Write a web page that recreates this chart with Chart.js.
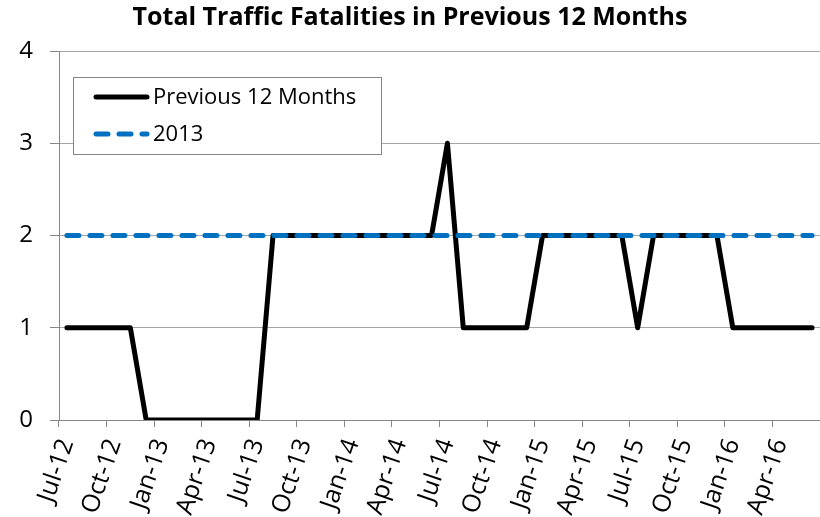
<!DOCTYPE html>
<html>
<head>
<meta charset="utf-8">
<script src="https://cdn.jsdelivr.net/npm/chart.js"></script>
<style>
  html, body { margin: 0; padding: 0; background: #fff; }
  #wrap { width: 820px; height: 517px; }
</style>
</head>
<body>
<div id="wrap"><canvas id="chart" width="820" height="517"></canvas></div>
<script>
const months = [
    'Jul-12', 'Aug-12', 'Sep-12', 'Oct-12', 'Nov-12', 'Dec-12',
    'Jan-13', 'Feb-13', 'Mar-13', 'Apr-13', 'May-13', 'Jun-13',
    'Jul-13', 'Aug-13', 'Sep-13', 'Oct-13', 'Nov-13', 'Dec-13',
    'Jan-14', 'Feb-14', 'Mar-14', 'Apr-14', 'May-14', 'Jun-14',
    'Jul-14', 'Aug-14', 'Sep-14', 'Oct-14', 'Nov-14', 'Dec-14',
    'Jan-15', 'Feb-15', 'Mar-15', 'Apr-15', 'May-15', 'Jun-15',
    'Jul-15', 'Aug-15', 'Sep-15', 'Oct-15', 'Nov-15', 'Dec-15',
    'Jan-16', 'Feb-16', 'Mar-16', 'Apr-16', 'May-16', 'Jun-16'
];
const previous12 = [
    1, 1, 1, 1, 1, 0,
    0, 0, 0, 0, 0, 0,
    0, 2, 2, 2, 2, 2,
    2, 2, 2, 2, 2, 2,
    3, 1, 1, 1, 1, 1,
    2, 2, 2, 2, 2, 2,
    1, 2, 2, 2, 2, 2,
    1, 1, 1, 1, 1, 1
];
const baseline2013 = [
    2, 2, 2, 2, 2, 2,
    2, 2, 2, 2, 2, 2,
    2, 2, 2, 2, 2, 2,
    2, 2, 2, 2, 2, 2,
    2, 2, 2, 2, 2, 2,
    2, 2, 2, 2, 2, 2,
    2, 2, 2, 2, 2, 2,
    2, 2, 2, 2, 2, 2
];
const yTicks = [0, 1, 2, 3, 4];

const FONT = '"Open Sans", Lato, sans-serif';
const AXIS = '#868686';
const GRID = '#a6a6a6';

// legend drawn inside the plot, like the spreadsheet original
const insideLegend = {
    id: 'insideLegend',
    afterDraw(chart) {
        const ctx = chart.ctx;
        const area = chart.chartArea;
        const x = area.left + 14, y = area.top + 26, w = 308, h = 77;
        ctx.save();
        ctx.fillStyle = '#fff';
        ctx.fillRect(x, y, w, h);
        ctx.strokeStyle = AXIS;
        ctx.lineWidth = 1;
        ctx.strokeRect(x + 0.5, y + 0.5, w, h);
        chart.data.datasets.forEach((ds, i) => {
            const ly = y + 20 + i * 37;
            ctx.beginPath();
            ctx.strokeStyle = ds.borderColor;
            ctx.lineWidth = ds.borderWidth;
            ctx.lineCap = 'round';
            ctx.setLineDash(ds.borderDash || []);
            ctx.moveTo(x + 23, ly);
            ctx.lineTo(x + 74, ly);
            ctx.stroke();
            ctx.setLineDash([]);
            ctx.fillStyle = '#000';
            ctx.font = '22px ' + FONT;
            ctx.textBaseline = 'middle';
            ctx.fillText(ds.label, x + 80, ly + 1);
        });
        ctx.restore();
    }
};

new Chart(document.getElementById('chart'), {
    type: 'line',
    data: {
        labels: months,
        datasets: [
            {
                label: 'Previous 12 Months',
                data: previous12,
                borderColor: '#000000',
                borderWidth: 5,
                borderCapStyle: 'round',
                borderJoinStyle: 'round',
                pointRadius: 0,
                tension: 0,
                order: 1
            },
            {
                label: '2013',
                data: baseline2013,
                borderColor: '#0070C0',
                borderWidth: 5,
                borderDash: [12, 11],
                borderCapStyle: 'round',
                pointRadius: 0,
                tension: 0,
                order: 0
            }
        ]
    },
    options: {
        responsive: false,
        animation: false,
        layout: { padding: 0 },
        plugins: {
            legend: { display: false },
            tooltip: { enabled: false },
            title: {
                display: true,
                text: 'Total Traffic Fatalities in Previous 12 Months',
                color: '#000',
                font: { family: FONT, size: 25, weight: 'bold' },
                padding: { top: 3, bottom: 18 }
            }
        },
        scales: {
            x: {
                offset: true,
                grid: {
                    offset: true,
                    drawOnChartArea: false,
                    tickLength: 7,
                    tickColor: (c) => (c.index % 3 === 0 ? AXIS : 'rgba(0,0,0,0)')
                },
                border: { color: AXIS, width: 1 },
                ticks: {
                    autoSkip: false,
                    minRotation: 71,
                    maxRotation: 71,
                    padding: 8,
                    color: '#000',
                    font: { family: FONT, size: 25 },
                    callback: (v, i) => (i % 3 === 0 ? months[i] : '')
                },
                afterFit: (s) => {
                    s.height = 97;
                    s.paddingLeft = 0;
                    s.paddingRight = 0;
                }
            },
            y: {
                min: yTicks[0],
                max: yTicks[yTicks.length - 1],
                afterBuildTicks: (s) => { s.ticks = yTicks.map(v => ({ value: v })); },
                grid: { color: GRID, tickColor: AXIS, tickLength: 9 },
                border: { color: AXIS, width: 1 },
                ticks: {
                    padding: 17,
                    color: '#000',
                    font: { family: FONT, size: 24 }
                },
                afterFit: (s) => {
                    s.width = 59;
                    s.paddingTop = 0;
                    s.paddingBottom = 0;
                }
            }
        }
    },
    plugins: [insideLegend]
});
</script>
</body>
</html>
